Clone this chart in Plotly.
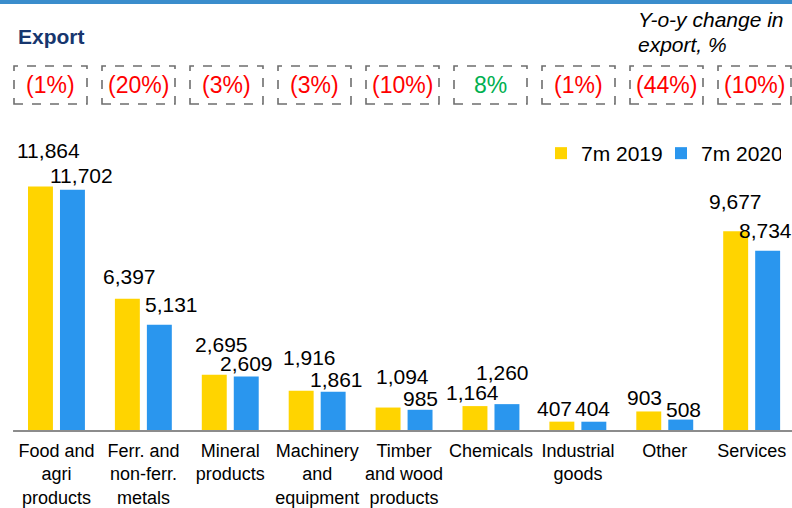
import plotly.graph_objects as go

# ---------------- data ----------------
categories = ["Food and<br>agri<br>products", "Ferr. and<br>non-ferr.<br>metals",
              "Mineral<br>products", "Machinery<br>and<br>equipment",
              "Timber<br>and wood<br>products", "Chemicals", "Industrial<br>goods",
              "Other", "Services"]
export_2019 = [11864, 6397, 2695, 1916, 1094, 1164, 407, 903, 9677]
export_2020 = [11702, 5131, 2609, 1861, 985, 1260, 404, 508, 8734]
series_names = ["7m 2019", "7m 2020"]

# ---------------- style / layout ----------------
W, H = 792, 508
M_T, M_B = 130, 78
PLOT_H = H - M_T - M_B
CAT0_PX, CAT_STEP_PX = 56.5, 86.9
X_MIN = -CAT0_PX / CAT_STEP_PX
X_MAX = (W - CAT0_PX) / CAT_STEP_PX
PX_PER_UNIT = 0.02053
Y_MAX = PLOT_H / PX_PER_UNIT
BAR_W = 0.287
OFFSETS = [-0.328, 0.040]
COLORS = ["#FFD400", "#2A96EE"]
FONT = "Liberation Sans, Arial, sans-serif"

# manual label nudges (px) as in the original slide
dx_lbl = [[8.5, 2.5, 7.5, 8.5, 14, -2.5, -7.5, -4, 0],
          [9.5, 12.5, 0, 3, 0, -4, -1, 3, -2.5]]
dy_lbl = [[36, 22.5, 30.5, 33.5, 31.5, 13.5, 13.5, 13.5, 29.5],
          [14.5, 20.5, 12.5, 12, 11.5, 31.5, 13.5, 10.5, 20]]

BOX_X0, BOX_STEP, BOX_W = 50.5, 88, 73
BOX_TOP, BOX_BOT = 66, 104


def px_x(px):
    return px / W


def px_y(py):
    return (H - M_B - py) / PLOT_H


def data_x_to_px(x):
    return CAT0_PX + x * CAT_STEP_PX


xs = list(range(len(categories)))

fig = go.Figure()
for k, (name, vals) in enumerate(zip(series_names, [export_2019, export_2020])):
    fig.add_trace(go.Bar(
        x=xs, y=vals, name=name, width=BAR_W, offset=OFFSETS[k],
        marker=dict(color=COLORS[k], line=dict(width=0)),
        hoverinfo="y+name",
    ))

annotations = []
for k, vals in enumerate([export_2019, export_2020]):
    for i, v in enumerate(vals):
        annotations.append(dict(
            x=i + OFFSETS[k] + BAR_W / 2, y=v, xref="x", yref="y",
            text=f"{v:,}", showarrow=False, xanchor="center", yanchor="middle",
            xshift=dx_lbl[k][i], yshift=dy_lbl[k][i],
            font=dict(family=FONT, size=21, color="#000000"),
        ))

shapes = []
# top blue band
shapes.append(dict(type="rect", xref="paper", yref="paper", x0=0, x1=1,
                   y0=px_y(4), y1=px_y(0), fillcolor="#3A8DCC", line=dict(width=0)))
# baseline
shapes.append(dict(type="line", xref="paper", yref="paper",
                   x0=px_x(data_x_to_px(-0.5)), x1=1, y0=px_y(431), y1=px_y(431),
                   line=dict(color="#8C8C8C", width=2), layer="above"))

# y-o-y change boxes
for i, (a, b) in enumerate(zip(export_2019, export_2020)):
    ch = b / a - 1
    pct = round(abs(ch) * 100)
    txt = f"({pct}%)" if ch < 0 else f"{pct}%"
    col = "#FF0000" if ch < 0 else "#00B050"
    cx = BOX_X0 + BOX_STEP * i
    shapes.append(dict(type="rect", xref="paper", yref="paper",
                       x0=px_x(cx - BOX_W / 2), x1=px_x(cx + BOX_W / 2),
                       y0=px_y(BOX_BOT), y1=px_y(BOX_TOP),
                       line=dict(color="#6E6E6E", width=1.6, dash="dash"),
                       fillcolor="rgba(0,0,0,0)"))
    annotations.append(dict(x=px_x(cx), y=px_y((BOX_TOP + BOX_BOT) / 2),
                            xref="paper", yref="paper", text=txt, showarrow=False,
                            xanchor="center", yanchor="middle",
                            font=dict(family=FONT, size=23, color=col)))

# title
annotations.append(dict(x=px_x(16), y=px_y(37), xref="paper", yref="paper",
                        text="<b>Export</b>", showarrow=False, xanchor="left",
                        yanchor="middle", font=dict(family=FONT, size=21, color="#17366E")))
# subtitle (two lines)
annotations.append(dict(x=px_x(636), y=px_y(20), xref="paper", yref="paper",
                        text="<i>Y-o-y change in</i>", showarrow=False, xanchor="left",
                        yanchor="middle", font=dict(family=FONT, size=21, color="#000000")))
annotations.append(dict(x=px_x(636), y=px_y(44), xref="paper", yref="paper",
                        text="<i>export, %</i>", showarrow=False, xanchor="left",
                        yanchor="middle", font=dict(family=FONT, size=21, color="#000000")))

fig.update_layout(
    template="none",
    width=W, height=H,
    margin=dict(l=0, r=0, t=M_T, b=M_B, pad=0),
    paper_bgcolor="white", plot_bgcolor="white",
    barmode="overlay",
    font=dict(family=FONT, color="#000000"),
    xaxis=dict(range=[X_MIN, X_MAX], tickmode="array", tickvals=xs, ticktext=categories,
               showgrid=False, zeroline=False, showline=False, ticks="",
               ticklabelstandoff=8,
               tickfont=dict(family=FONT, size=18, color="#000000"),
               automargin=False, fixedrange=True),
    yaxis=dict(range=[0, Y_MAX], visible=False, showgrid=False, zeroline=False,
               automargin=False, fixedrange=True),
    legend=dict(orientation="h", x=px_x(541), y=px_y(133), xanchor="left", yanchor="top",
                entrywidth=75, entrywidthmode="pixels",
                font=dict(family=FONT, size=21, color="#000000"),
                bgcolor="rgba(0,0,0,0)", borderwidth=0, traceorder="normal"),
    showlegend=True,
    shapes=shapes,
    annotations=annotations,
)

fig.write_html("out.html", config={"displayModeBar": False},
               post_script="document.body.style.margin='0';document.body.style.padding='0';")
